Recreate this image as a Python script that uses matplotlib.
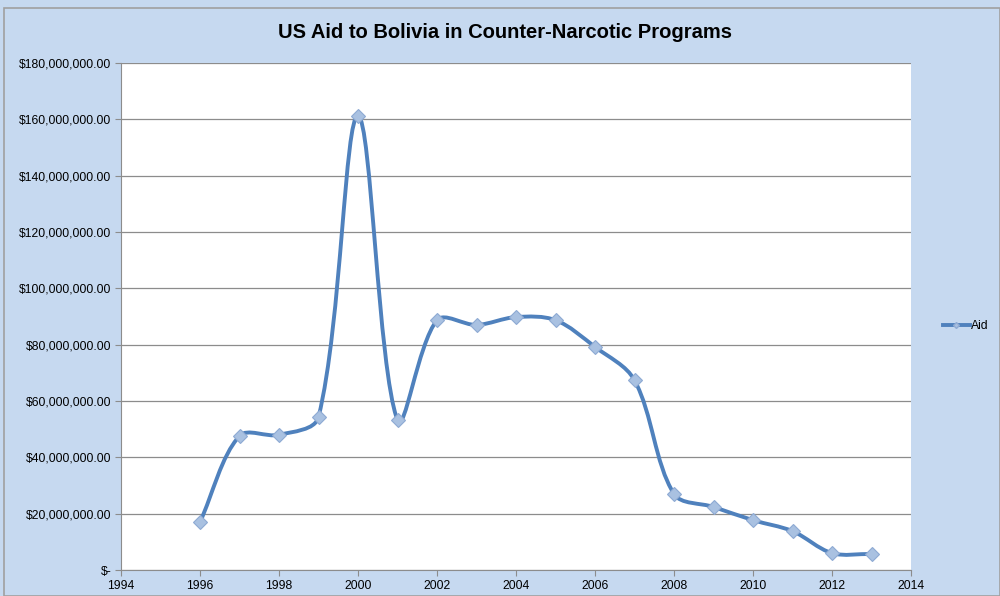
'''
US Aid to Bolivia in Counter-Narcotic Programs
'''

import numpy as np
import matplotlib.pyplot as plt
from matplotlib.path import Path
from matplotlib.patches import PathPatch, Rectangle
from matplotlib.ticker import FuncFormatter
from matplotlib.lines import Line2D

plt.rcParams['font.family'] = ['Liberation Sans Narrow', 'Liberation Sans', 'DejaVu Sans']

years = [1996, 1997, 1998, 1999, 2000, 2001, 2002, 2003, 2004,
         2005, 2006, 2007, 2008, 2009, 2010, 2011, 2012, 2013]
aid = [17.0e6, 47.6e6, 48.0e6, 54.3e6, 161.2e6, 53.2e6, 88.7e6, 87.0e6, 89.8e6,
       88.7e6, 79.2e6, 67.4e6, 27.0e6, 22.4e6, 17.7e6, 13.8e6, 6.0e6, 5.7e6]

LINE = '#4f81bd'
BG = '#c6d9f0'

fig = plt.figure(figsize=(10, 5.96), dpi=100, facecolor=BG)
fig.patches.append(Rectangle((0.004, 0.0), 0.996, 0.986, transform=fig.transFigure,
                             fill=False, edgecolor='#a0a0a0', linewidth=1.2))
ax = fig.add_axes([0.121, 0.0436, 0.79, 0.8507])
ax.set_facecolor('white')
ax.set_xlim(1994, 2014)
ax.set_ylim(0, 180e6)

# smoothed line like excel: bezier with tangents scaled by segment lengths (in pixels)
x = np.array(years, dtype=float)
y = np.array(aid, dtype=float)
sx = 790 / 20.0
sy = 507 / 180e6
n = len(x)

def dist(i, j):
    return np.hypot((x[j] - x[i]) * sx, (y[j] - y[i]) * sy)

verts = [(x[0], y[0])]
codes = [Path.MOVETO]
for i in range(n - 1):
    a = max(i - 1, 0)
    d = min(i + 2, n - 1)
    d12 = dist(i, i + 1)
    f1 = d12 / (3 * (dist(a, i) + d12))
    f2 = d12 / (3 * (d12 + dist(i + 1, d)))
    c1 = (x[i] + (x[i + 1] - x[a]) * f1, y[i] + (y[i + 1] - y[a]) * f1)
    c2 = (x[i + 1] - (x[d] - x[i]) * f2, y[i + 1] - (y[d] - y[i]) * f2)
    verts += [c1, c2, (x[i + 1], y[i + 1])]
    codes += [Path.CURVE4] * 3
ax.add_patch(PathPatch(Path(verts, codes), facecolor='none', edgecolor=LINE,
                       linewidth=2.8, capstyle='round', zorder=3))
ax.plot(years, aid, linestyle='none', marker='D', markersize=7.5,
        markerfacecolor='#a9c1e1', markeredgecolor='#8eaad3', markeredgewidth=0.8, zorder=4)

ax.set_xticks(range(1994, 2015, 2))
ax.set_yticks(np.arange(0, 180e6 + 1, 20e6))
ax.yaxis.set_major_formatter(FuncFormatter(lambda v, p: '$-' if v == 0 else '${:,.2f}'.format(v)))
ax.grid(axis='y', color='#8c8c8c', linewidth=0.9)
ax.set_axisbelow(True)
for s in ['top', 'right']:
    ax.spines[s].set_visible(False)
for s in ['left', 'bottom']:
    ax.spines[s].set_color('#8c8c8c')
ax.tick_params(axis='both', direction='out', length=4, color='#8c8c8c', labelsize=8.7, pad=3)

fig.text(0.505, 0.945, 'US Aid to Bolivia in Counter-Narcotic Programs',
         ha='center', va='center', fontsize=14.5, fontweight='bold',
         family=['Liberation Sans', 'DejaVu Sans'])

handle = Line2D([], [], color=LINE, linewidth=2.8, marker='D', markersize=3,
                markerfacecolor='#a9c1e1', markeredgecolor='#8eaad3')
fig.legend([handle], ['Aid'], loc='center left', bbox_to_anchor=(0.943, 0.453),
           frameon=False, fontsize=8.7, handlelength=2.2, handletextpad=0.1,
           borderpad=0, borderaxespad=0)

plt.savefig('out.png', dpi=100, facecolor=BG)
